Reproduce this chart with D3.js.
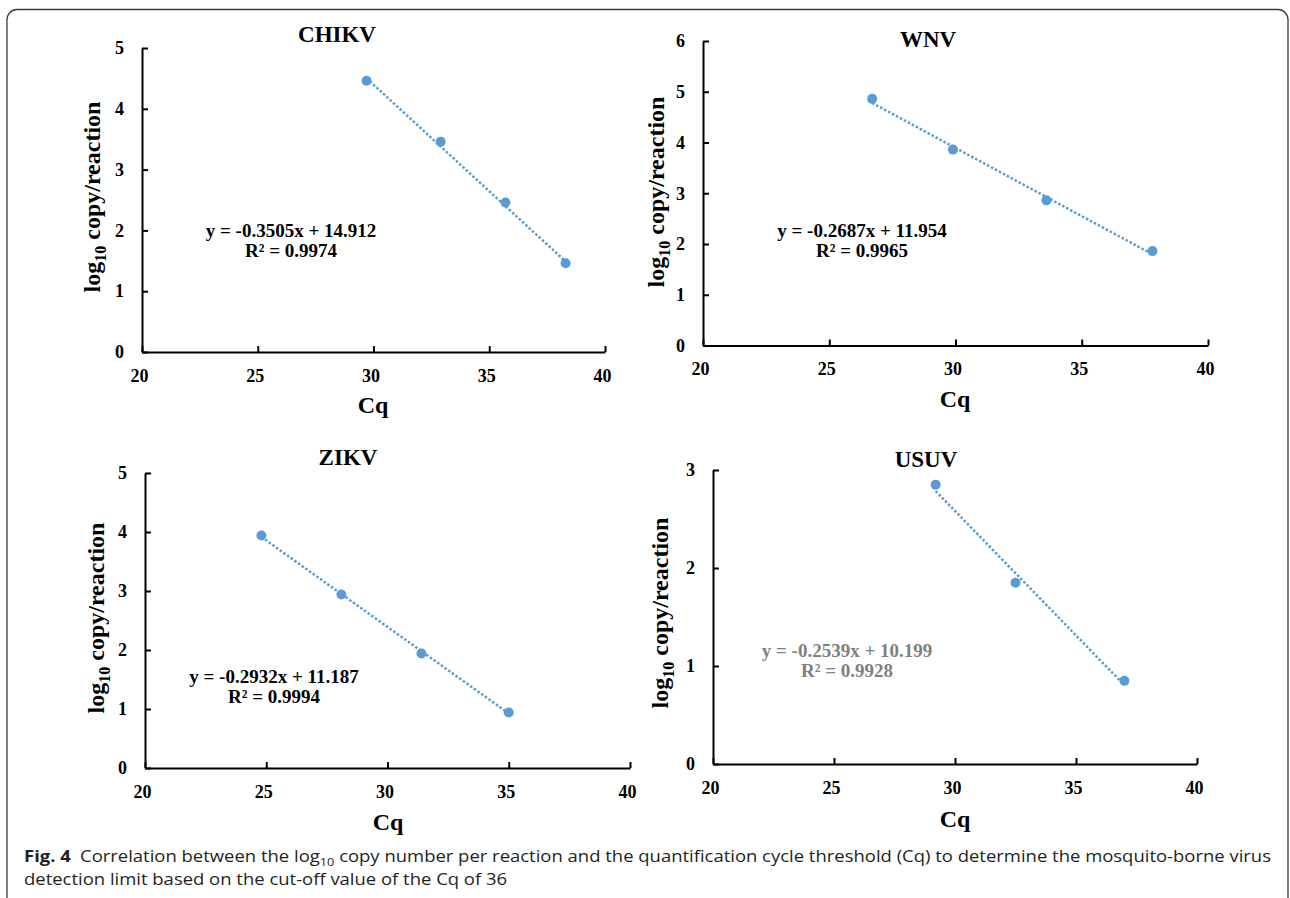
<!DOCTYPE html>
<html>
<head>
<meta charset="utf-8">
<script src="https://d3js.org/d3.v7.min.js"></script>
<style>
    body { margin: 0; background: #fff; }
    svg { display: block; }
    .serif { font-family: "Liberation Serif", "Times New Roman", serif; font-weight: bold; }
</style>
</head>
<body>
<svg width="1290" height="898"></svg>
<script>
// panel names
var viruses = ["CHIKV", "WNV", "ZIKV", "USUV"];

// Cq values per virus
var cq_chikv = [29.7, 32.9, 35.7, 38.3];
var cq_wnv   = [26.7, 29.9, 33.6, 37.8];
var cq_zikv  = [24.8, 28.1, 31.4, 35.0];
var cq_usuv  = [29.2, 32.5, 37.0];

// log10 copy/reaction per virus
var log_chikv = [4.46, 3.46, 2.46, 1.46];
var log_wnv   = [4.86, 3.86, 2.86, 1.86];
var log_zikv  = [3.94, 2.94, 1.94, 0.94];
var log_usuv  = [2.85, 1.85, 0.85];

// trendline fits printed on the chart
var slopes     = [-0.3505, -0.2687, -0.2932, -0.2539];
var intercepts = [14.912, 11.954, 11.187, 10.199];
var r2_values  = ["0.9974", "0.9965", "0.9994", "0.9928"];

// axis ranges / ticks
var x_ticks = [20, 25, 30, 35, 40];
var y_max   = [5, 6, 5, 3];

var cq_all  = [cq_chikv, cq_wnv, cq_zikv, cq_usuv];
var log_all = [log_chikv, log_wnv, log_zikv, log_usuv];

// where each plot sits on the page (pixel layout, not data)
var layout = [
    { x0: 142, x1: 605,  yTop: 48,  yBot: 352, titleX: 337, titleY: 41.5, eqX: 291, eqY: 236.5, ylabX: 92,  ylabY: 197, cqX: 373, cqY: 413, eqColor: "#000" },
    { x0: 703, x1: 1208, yTop: 41,  yBot: 345.5, titleX: 928, titleY: 46.5, eqX: 862, eqY: 236.5, ylabX: 656, ylabY: 192, cqX: 955, cqY: 406.5, eqColor: "#000" },
    { x0: 145, x1: 630,  yTop: 473, yBot: 768, titleX: 348, titleY: 465, eqX: 274, eqY: 682.5, ylabX: 96,  ylabY: 618, cqX: 388, cqY: 830, eqColor: "#000" },
    { x0: 713, x1: 1197, yTop: 470, yBot: 764, titleX: 926, titleY: 466.5, eqX: 847, eqY: 656.5, ylabX: 660, ylabY: 613, cqX: 955, cqY: 826.5, eqColor: "#7f7f7f" }
];

var blue = "#5b9bd5";

var svg = d3.select("svg");

// outer rounded frame of the figure
svg.append("rect")
    .attr("x", 7)
    .attr("y", 9.5)
    .attr("width", 1281)
    .attr("height", 905)
    .attr("rx", 10)
    .attr("fill", "none")
    .attr("stroke", "#3a3a3a")
    .attr("stroke-width", 1.3);

viruses.forEach(function(name, i) {
    var L = layout[i];

    var x = d3.scaleLinear().domain([20, 40]).range([L.x0, L.x1]);
    var y = d3.scaleLinear().domain([0, y_max[i]]).range([L.yBot, L.yTop]);

    var g = svg.append("g").attr("class", "panel");

    // x axis, ticks pointing inward
    var xAxis = g.append("g")
        .attr("transform", "translate(0," + L.yBot + ")")
        .call(d3.axisBottom(x).tickValues(x_ticks).tickSizeInner(-6).tickSizeOuter(0).tickPadding(17));

    // y axis
    var yAxis = g.append("g")
        .attr("transform", "translate(" + L.x0 + ",0)")
        .call(d3.axisLeft(y).ticks(y_max[i]).tickFormat(d3.format("d")).tickSizeInner(-6).tickSizeOuter(0).tickPadding(18));

    [xAxis, yAxis].forEach(function(a) {
        a.attr("font-family", null).attr("font-size", null);
        a.select(".domain").attr("stroke", "#000").attr("stroke-width", 2);
        a.selectAll(".tick line").attr("stroke", "#000").attr("stroke-width", 2);
        a.selectAll(".tick text")
            .attr("class", "serif")
            .attr("font-size", 18)
            .attr("fill", "#000");
    });
    xAxis.selectAll(".tick text").attr("dx", -3);

    // title
    g.append("text")
        .attr("class", "serif")
        .attr("x", L.titleX)
        .attr("y", L.titleY)
        .attr("text-anchor", "middle")
        .attr("font-size", 23)
        .text(name);

    // x label
    g.append("text")
        .attr("class", "serif")
        .attr("x", L.cqX)
        .attr("y", L.cqY)
        .attr("text-anchor", "middle")
        .attr("font-size", 24)
        .text("Cq");

    // y label with subscript
    var ylab = g.append("text")
        .attr("class", "serif")
        .attr("transform", "translate(" + (L.ylabX + 8) + "," + L.ylabY + ") rotate(-90)")
        .attr("text-anchor", "middle")
        .attr("font-size", 24);
    ylab.append("tspan").text("log");
    ylab.append("tspan").attr("font-size", 16).attr("dy", 6).text("10");
    ylab.append("tspan").attr("dy", -6).text(" copy/reaction");

    // linear trendline over the data range
    var cqs = cq_all[i];
    var ext = d3.extent(cqs);
    var fit = function(c) { return slopes[i] * c + intercepts[i]; };
    g.append("line")
        .attr("x1", x(ext[0]))
        .attr("y1", y(fit(ext[0])))
        .attr("x2", x(ext[1]))
        .attr("y2", y(fit(ext[1])))
        .attr("stroke", blue)
        .attr("stroke-width", 2.5)
        .attr("stroke-dasharray", "2.5,2");

    // points
    g.selectAll("circle")
        .data(cqs.map(function(c, k) { return { cq: c, v: log_all[i][k] }; }))
        .enter().append("circle")
        .attr("cx", function(d) { return x(d.cq); })
        .attr("cy", function(d) { return y(d.v); })
        .attr("r", 5)
        .attr("fill", blue);

    // equation + R2
    var sign = intercepts[i] < 0 ? " - " : " + ";
    g.append("text")
        .attr("class", "serif")
        .attr("x", L.eqX)
        .attr("y", L.eqY)
        .attr("text-anchor", "middle")
        .attr("font-size", 19)
        .attr("fill", L.eqColor)
        .text("y = " + slopes[i].toFixed(4) + "x" + sign + Math.abs(intercepts[i]).toFixed(3));
    g.append("text")
        .attr("class", "serif")
        .attr("x", L.eqX)
        .attr("y", L.eqY + 20.5)
        .attr("text-anchor", "middle")
        .attr("font-size", 19)
        .attr("fill", L.eqColor)
        .text("R\u00b2 = " + r2_values[i]);
});

// caption below the panels (squeezed to the width of a condensed font)
var cap = svg.append("g");
var line1 = cap.append("text")
    .attr("x", 0)
    .attr("y", 862)
    .attr("font-family", "'Open Sans', sans-serif")
    .attr("font-size", 16)
    .attr("fill", "#231f20");
line1.append("tspan").attr("font-weight", "bold").text("Fig. 4");
line1.append("tspan").text("\u2002Correlation between the log");
line1.append("tspan").attr("font-size", 11).attr("dy", 4).text("10");
line1.append("tspan").attr("dy", -4).text(" copy number per reaction and the quantification cycle threshold (Cq) to determine the mosquito-borne virus");

cap.append("text")
    .attr("x", 0)
    .attr("y", 885)
    .attr("font-family", "'Open Sans', sans-serif")
    .attr("font-size", 16)
    .attr("fill", "#231f20")
    .text("detection limit based on the cut-off value of the Cq of 36");

var w1 = line1.node().getComputedTextLength();
var k = (1272 - 24) / w1;
cap.attr("transform", "translate(24,0) scale(" + k + ",1)");
</script>
</body>
</html>
